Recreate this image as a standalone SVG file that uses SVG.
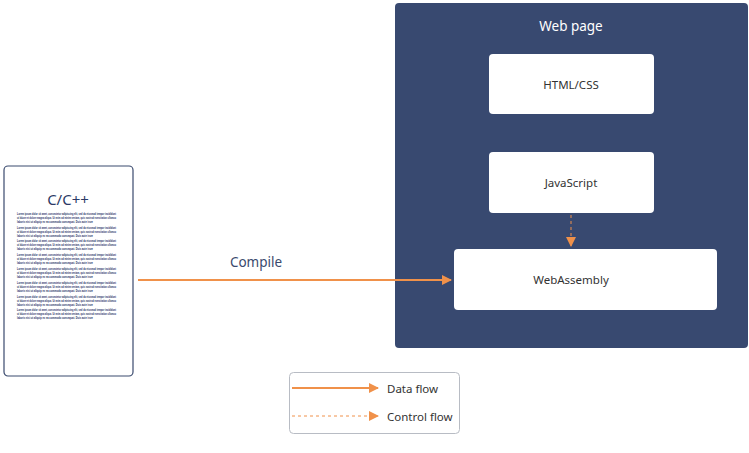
<svg xmlns="http://www.w3.org/2000/svg" width="749" height="453" viewBox="0 0 749 453">
<style>
.t{font-family:"Noto Sans","Liberation Sans",sans-serif}
.box{fill:#ffffff}
.lbl{font-size:11.5px;fill:#333333;text-anchor:middle}
.tiny{font-family:"Liberation Sans",sans-serif;font-size:3.8px;font-weight:bold;fill:#1f2f66}
.flow{stroke:#f0914a;stroke-width:2;fill:none}
.ctl{stroke:#f0914a;stroke-width:1;stroke-dasharray:3,3;fill:none}
</style>
<defs>
<marker id="ah" viewBox="0 0 10 10" refX="9" refY="5" markerWidth="10" markerHeight="10" markerUnits="userSpaceOnUse" orient="auto">
<path d="M0,0 L10,5 L0,10 z" fill="#f0914a"/>
</marker>
<g id="para">
<text class="tiny" x="17" y="0" textLength="99" lengthAdjust="spacingAndGlyphs">Lorem ipsum dolor sit amet, consectetur adipiscing elit, sed do eiusmod tempor incididunt</text>
<text class="tiny" x="17" y="4" textLength="99" lengthAdjust="spacingAndGlyphs">ut labore et dolore magna aliqua. Ut enim ad minim veniam, quis nostrud exercitation ullamco</text>
<text class="tiny" x="17" y="8" textLength="76" lengthAdjust="spacingAndGlyphs">laboris nisi ut aliquip ex ea commodo consequat. Duis aute irure</text>
</g>
</defs>
<g id="webpage">
<rect x="395" y="3" width="353" height="345" rx="4" fill="#384970"/>
<text class="t" x="571" y="31" font-size="13.5" fill="#ffffff" text-anchor="middle">Web page</text>
</g>
<g id="htmlcss">
<rect class="box" x="489" y="54" width="165" height="60" rx="4"/>
<text class="t lbl" x="571" y="89">HTML/CSS</text>
</g>
<g id="javascript">
<rect class="box" x="489" y="152" width="165" height="61" rx="4"/>
<text class="t lbl" x="571" y="187">JavaScript</text>
</g>
<g id="webassembly">
<rect class="box" x="454" y="249" width="263" height="61" rx="4"/>
<text class="t lbl" x="571" y="284">WebAssembly</text>
</g>
<g id="source">
<rect x="4" y="166" width="129" height="210" rx="4" fill="#ffffff" stroke="#3a4a6e" stroke-width="1.2"/>
<text class="t" x="68" y="205" font-size="15" fill="#2c3a66" text-anchor="middle">C/C++</text>
<use href="#para" y="215"/>
<use href="#para" y="229"/>
<use href="#para" y="242"/>
<use href="#para" y="256"/>
<use href="#para" y="270"/>
<use href="#para" y="284"/>
<use href="#para" y="298"/>
<use href="#para" y="311"/>
</g>
<g id="connectors">
<line class="flow" x1="138" y1="280" x2="451" y2="280" marker-end="url(#ah)"/>
<text class="t" x="256" y="267" font-size="13.5" fill="#3a4a6e" text-anchor="middle">Compile</text>
<line class="ctl" x1="571" y1="215" x2="571" y2="246" marker-end="url(#ah)"/>
</g>
<g id="legend">
<rect x="289.5" y="372.5" width="170" height="61" rx="4" fill="#ffffff" stroke="#b8bcc4" stroke-width="1"/>
<line class="flow" x1="292" y1="388" x2="378" y2="388" marker-end="url(#ah)"/>
<text class="t" x="387" y="393" font-size="11.5" fill="#333333">Data flow</text>
<line class="ctl" x1="292" y1="416" x2="378" y2="416" marker-end="url(#ah)"/>
<text class="t" x="387" y="421" font-size="11.5" fill="#333333">Control flow</text>
</g>
</svg>
